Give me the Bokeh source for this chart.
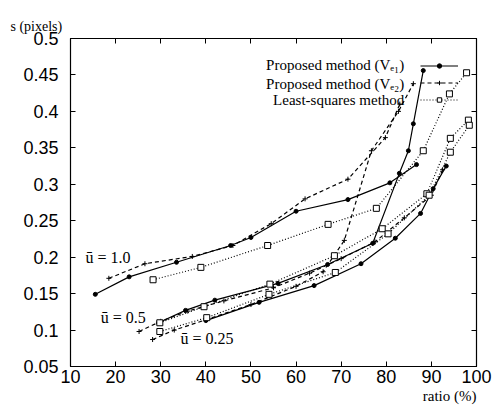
from bokeh.plotting import figure
from bokeh.models import (Legend, LegendItem, Label, LinearAxis, FixedTicker, Range1d,
                          CustomJSTickFormatter, Title)
from bokeh.core.properties import value
from bokeh.embed import file_html
from bokeh.resources import INLINE

# ---------------- data ----------------
x_ticks = [10, 20, 30, 40, 50, 60, 70, 80, 90, 100]
x_tick_labels = ["10", "20", "30", "40", "50", "60", "70", "80", "90", "100"]
y_ticks = [0.05, 0.1, 0.15, 0.2, 0.25, 0.3, 0.35, 0.4, 0.45, 0.5]
y_tick_labels = ["0.05", "0.1", "0.15", "0.2", "0.25", "0.3", "0.35", "0.4", "0.45", "0.5"]

series_names = ["Proposed method (Vₑ₁)", "Proposed method (Vₑ₂)", "Least-squares method"]

# u = 1.0
u10_ve1_x = [15.5, 23, 33.5, 45.5, 50, 60, 71.5, 80.8, 86.7]
u10_ve1_y = [0.149, 0.173, 0.193, 0.216, 0.227, 0.263, 0.279, 0.302, 0.327]
u10_ve2_x = [18.5, 26.5, 37, 46, 54.5, 62, 71.5, 79.8, 83]
u10_ve2_y = [0.171, 0.191, 0.201, 0.216, 0.246, 0.280, 0.307, 0.364, 0.41]
u10_ls_x = [28.3, 38.9, 53.7, 67.1, 77.8, 88.2, 94, 97.8]
u10_ls_y = [0.169, 0.186, 0.216, 0.245, 0.267, 0.346, 0.424, 0.453]

# u = 0.5
u05_ve1_x = [29.5, 35.5, 42, 56, 67, 77, 82.9, 84.9, 86, 88.2]
u05_ve1_y = [0.110, 0.127, 0.141, 0.164, 0.19, 0.219, 0.315, 0.346, 0.383, 0.456]
u05_ve2_x = [25.2, 30, 36, 44, 55, 63, 70, 77.5, 84, 90, 92.5]
u05_ve2_y = [0.098, 0.112, 0.126, 0.140, 0.158, 0.178, 0.198, 0.221, 0.254, 0.285, 0.32]
u05_ls_x = [29.8, 39.6, 54.2, 68.5, 79.1, 89, 94.2, 98.2]
u05_ls_y = [0.110, 0.132, 0.163, 0.202, 0.239, 0.287, 0.363, 0.388]

# u = 0.25
u025_ve1_x = [40, 51.8, 64, 74.4, 82, 87.6, 90.4, 93.3]
u025_ve1_y = [0.113, 0.138, 0.161, 0.191, 0.226, 0.260, 0.294, 0.325]
u025_ve2_x = [28.2, 33, 40, 50, 60, 66, 70.7, 76.7, 82.7, 86]
u025_ve2_y = [0.087, 0.100, 0.114, 0.135, 0.160, 0.180, 0.223, 0.346, 0.40, 0.438]
u025_ls_x = [29.8, 40.2, 54, 68.7, 80.4, 89.5, 94.2, 98.4]
u025_ls_y = [0.098, 0.117, 0.149, 0.179, 0.232, 0.285, 0.344, 0.381]

u_labels = ["ū = 1.0", "ū = 0.5", "ū = 0.25"]
u_label_x = [13.3, 16.7, 34.4]
u_label_y = [0.200, 0.117, 0.088]

# ---------------- figure ----------------
p = figure(width=496, height=409, x_range=Range1d(10, 100), y_range=Range1d(0.05, 0.5),
           output_backend="svg", toolbar_location=None,
           min_border_left=70, min_border_right=20, min_border_top=38, min_border_bottom=43)
p.background_fill_color = "white"
p.border_fill_color = "white"
p.outline_line_color = "black"
p.outline_line_width = 1.2
p.xgrid.visible = False
p.ygrid.visible = False

serif = "Liberation Serif"

# axis titles as plot titles (left above, right below)
p.title.text = "s (pixels)"
p.title.align = "left"
p.title.offset = -60
p.title.standoff = 10
p.title.text_font = serif
p.title.text_font_style = "normal"
p.title.text_font_size = "14px"
p.title.text_color = "black"
p.add_layout(Title(text="ratio (%)", align="right", standoff=0, text_font=serif,
                   text_font_style="normal", text_font_size="15px", text_color="black"),
             "below")

tick_font = "Liberation Sans"
for ax in p.xaxis:
    ax.ticker = FixedTicker(ticks=x_ticks)
    ax.major_label_overrides = {t: l for t, l in zip(x_ticks, x_tick_labels)}
for ax in p.yaxis:
    ax.ticker = FixedTicker(ticks=y_ticks)
    ax.major_label_overrides = {t: l for t, l in zip(y_ticks, y_tick_labels)}
for ax in list(p.xaxis) + list(p.yaxis):
    ax.major_tick_in = 5
    ax.major_tick_out = 0
    ax.minor_tick_line_color = None
    ax.axis_line_color = "black"
    ax.major_label_text_font = tick_font
    ax.major_label_text_font_size = "18px"
    ax.major_label_text_color = "black"
p.yaxis.major_label_standoff = 12
p.xaxis.major_label_standoff = 3

# ticks on top and right (no labels)
blank = CustomJSTickFormatter(code="return ''")
top_ax = LinearAxis(ticker=FixedTicker(ticks=x_ticks), major_tick_in=5, major_tick_out=0,
                    minor_tick_line_color=None, formatter=blank, major_label_standoff=0)
right_ax = LinearAxis(ticker=FixedTicker(ticks=y_ticks), major_tick_in=5, major_tick_out=0,
                      minor_tick_line_color=None, formatter=blank, major_label_standoff=0)
p.add_layout(top_ax, "above")
p.add_layout(right_ax, "right")

styles = {
    "ve1": dict(line_dash="solid", marker="circle", size=4, fill="black"),
    "ve2": dict(line_dash="4 3", marker="cross", size=5, fill="black"),
    "ls": dict(line_dash="1 2", marker="square", size=6, fill="white"),
}

groups = [
    ("ve1", [(u10_ve1_x, u10_ve1_y), (u05_ve1_x, u05_ve1_y), (u025_ve1_x, u025_ve1_y)]),
    ("ve2", [(u10_ve2_x, u10_ve2_y), (u05_ve2_x, u05_ve2_y), (u025_ve2_x, u025_ve2_y)]),
    ("ls", [(u10_ls_x, u10_ls_y), (u05_ls_x, u05_ls_y), (u025_ls_x, u025_ls_y)]),
]

legend_items = []
for key, data in groups:
    st = styles[key]
    first = None
    for xs, ys in data:
        lr = p.line(xs, ys, line_color="black", line_width=1.2, line_dash=st["line_dash"])
        sr = p.scatter(xs, ys, marker=st["marker"], size=st["size"], line_color="black",
                       fill_color=st["fill"], line_width=1)
        if first is None:
            first = [lr, sr]
    legend_items.append(LegendItem(label=value(" "), renderers=first))

legend = Legend(items=legend_items, location=(350, 258), glyph_width=38, glyph_height=11,
                label_height=17, spacing=0, padding=0, margin=0, label_standoff=0,
                label_text_font_size="6px", border_line_color=None,
                background_fill_alpha=0.0)
p.add_layout(legend, "center")

legend_y = [0.463, 0.438, 0.415]
for name, ly in zip(series_names, legend_y):
    p.add_layout(Label(x=84, y=ly, text=name, text_align="right", text_baseline="middle",
                       text_font=serif, text_font_size="15px", text_color="black"))

p.text(x=u_label_x, y=u_label_y, text=u_labels, text_font=value(serif),
       text_font_size="16px", text_baseline="middle", text_align="left", text_color="black")

open("out.html", "w").write(file_html(p, INLINE))
